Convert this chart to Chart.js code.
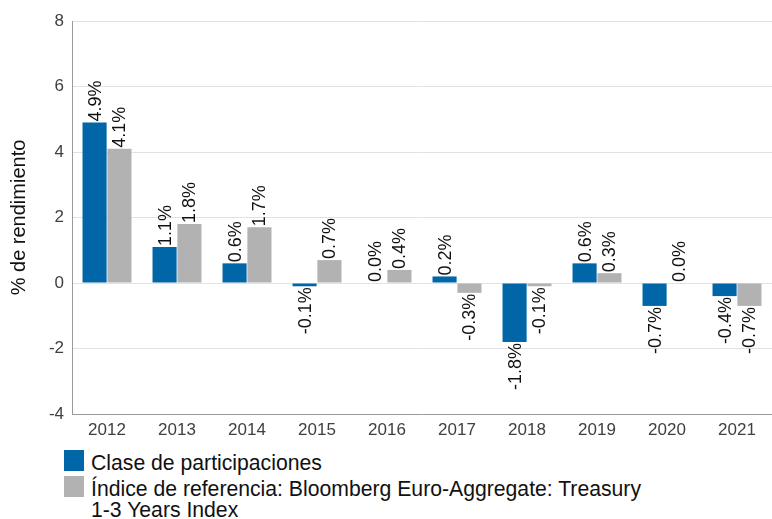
<!DOCTYPE html>
<html>
<head>
<meta charset="utf-8">
<script src="https://cdn.jsdelivr.net/npm/chart.js@4"></script>
<style>
  html, body { margin: 0; padding: 0; background: #fff; }
  body { width: 772px; height: 519px; position: relative; overflow: hidden; font-family: "Liberation Sans", Arial, sans-serif; }
  #wrap { position: absolute; left: 0; top: 0; width: 772px; height: 446px; }
  .leg { position: absolute; left: 0; font-size: 21.2px; line-height: 21px; color: #111; }
  .box { position: absolute; width: 20px; height: 21px; }
  .txt { position: absolute; left: 91px; white-space: nowrap; }
</style>
</head>
<body>
<div id="wrap"><canvas id="c" width="772" height="446"></canvas></div>
<div class="box" style="left:64px; top:450px; background:#0066a8;"></div>
<div class="leg txt" style="top:451.5px;">Clase de participaciones</div>
<div class="box" style="left:64px; top:476px; background:#b2b2b2;"></div>
<div class="leg txt" style="top:477.5px;">Índice de referencia: Bloomberg Euro-Aggregate: Treasury<br>1-3 Years Index</div>
<script>
const categories = ["2012","2013","2014","2015","2016","2017","2018","2019","2020","2021"];
const seriesNames = ["Clase de participaciones", "Índice de referencia: Bloomberg Euro-Aggregate: Treasury 1-3 Years Index"];
const fundValues = [4.9, 1.1, 0.6, -0.1, 0.0, 0.2, -1.8, 0.6, -0.7, -0.4];
const indexValues = [4.1, 1.8, 1.7, 0.7, 0.4, -0.3, -0.1, 0.3, 0.0, -0.7];
const yTicks = [-4, -2, 0, 2, 4, 6, 8];
const yTitle = "% de rendimiento";

const FONT = "'Liberation Sans', Arial, sans-serif";

const labelPlugin = {
  id: 'rotLabels',
  afterDatasetsDraw(chart) {
    const ctx = chart.ctx;
    ctx.save();
    ctx.font = "18px " + FONT;
    ctx.fillStyle = "#111";
    ctx.textBaseline = "middle";
    chart.data.datasets.forEach((ds, di) => {
      const meta = chart.getDatasetMeta(di);
      meta.data.forEach((el, i) => {
        const v = ds.data[i];
        const txt = v.toFixed(1) + "%";
        ctx.save();
        if (v >= 0) {
          ctx.translate(el.x, el.y - 1);
          ctx.rotate(-Math.PI / 2);
          ctx.textAlign = "left";
        } else {
          ctx.translate(el.x, el.y + 1);
          ctx.rotate(-Math.PI / 2);
          ctx.textAlign = "right";
        }
        ctx.fillText(txt, 0, 1);
        ctx.restore();
      });
    });
    ctx.restore();
  }
};

new Chart(document.getElementById('c'), {
  type: 'bar',
  data: {
    labels: categories,
    datasets: [
      { label: seriesNames[0], data: fundValues, backgroundColor: '#0066a8', borderWidth: 0, categoryPercentage: 0.71, barPercentage: 0.97 },
      { label: seriesNames[1], data: indexValues, backgroundColor: '#b2b2b2', borderWidth: 0, categoryPercentage: 0.71, barPercentage: 0.97 }
    ]
  },
  options: {
    responsive: false,
    animation: false,
    devicePixelRatio: 1,
    layout: { padding: { top: 21, right: 0, left: 0, bottom: 0 } },
    plugins: { legend: { display: false }, tooltip: { enabled: false } },
    scales: {
      x: {
        grid: { display: false, drawTicks: false },
        border: { display: true, color: '#9a9a9a', width: 1 },
        ticks: { color: '#404040', font: { family: FONT, size: 17 }, padding: 6, maxRotation: 0 },
        afterFit(s) { s.height = 446 - 414; }
      },
      y: {
        min: -4, max: 8,
        afterBuildTicks(s) { s.ticks = yTicks.map(v => ({ value: v })); },
        grid: { color: '#e2e2e2', drawTicks: false },
        border: { display: true, color: '#9a9a9a', width: 1 },
        ticks: { color: '#404040', font: { family: FONT, size: 17 }, padding: 8 },
        title: { display: true, text: yTitle, color: '#111', font: { family: FONT, size: 20 }, padding: { top: 7, bottom: 0 } },
        afterFit(s) { s.width = 72; }
      }
    }
  },
  plugins: [labelPlugin]
});
</script>
</body>
</html>
